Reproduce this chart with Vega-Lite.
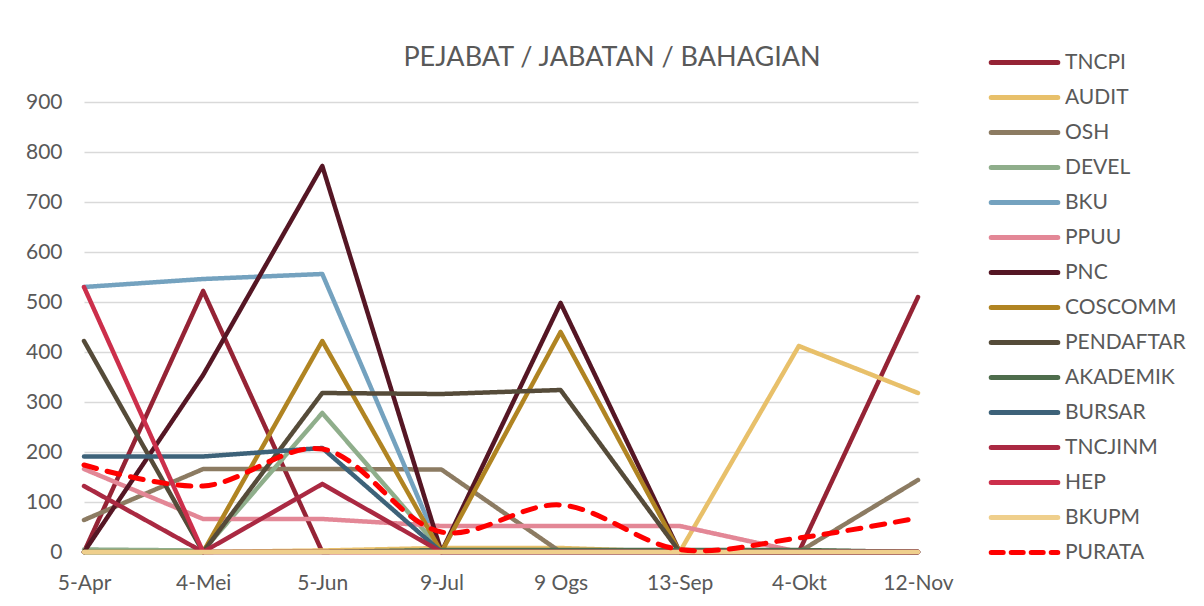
{
  "$schema": "https://vega.github.io/schema/vega-lite/v6.json",
  "autosize": "none",
  "width": 834,
  "height": 450,
  "padding": {"left": 84, "top": 102, "right": 286, "bottom": 54},
  "background": "white",
  "title": {"text": "PEJABAT / JABATAN / BAHAGIAN", "fontSize": 27, "font": "Lato", "fontWeight": "normal", "color": "#595959", "anchor": "middle", "dx": 111, "offset": -21},
  "config": {"view": {"stroke": null}, "font": "Lato"},
  "data": {"values": [
    {"d":"5-Apr","s":"TNCPI","v":0},{"d":"4-Mei","s":"TNCPI","v":522},{"d":"5-Jun","s":"TNCPI","v":0},{"d":"9-Jul","s":"TNCPI","v":0},{"d":"9 Ogs","s":"TNCPI","v":0},{"d":"13-Sep","s":"TNCPI","v":0},{"d":"4-Okt","s":"TNCPI","v":0},{"d":"12-Nov","s":"TNCPI","v":510},
    {"d":"5-Apr","s":"AUDIT","v":0},{"d":"4-Mei","s":"AUDIT","v":0},{"d":"5-Jun","s":"AUDIT","v":3},{"d":"9-Jul","s":"AUDIT","v":8},{"d":"9 Ogs","s":"AUDIT","v":8},{"d":"13-Sep","s":"AUDIT","v":0},{"d":"4-Okt","s":"AUDIT","v":412},{"d":"12-Nov","s":"AUDIT","v":318},
    {"d":"5-Apr","s":"OSH","v":64},{"d":"4-Mei","s":"OSH","v":166},{"d":"5-Jun","s":"OSH","v":166},{"d":"9-Jul","s":"OSH","v":165},{"d":"9 Ogs","s":"OSH","v":0},{"d":"13-Sep","s":"OSH","v":0},{"d":"4-Okt","s":"OSH","v":0},{"d":"12-Nov","s":"OSH","v":144},
    {"d":"5-Apr","s":"DEVEL","v":5},{"d":"4-Mei","s":"DEVEL","v":3},{"d":"5-Jun","s":"DEVEL","v":278},{"d":"9-Jul","s":"DEVEL","v":3},{"d":"9 Ogs","s":"DEVEL","v":3},{"d":"13-Sep","s":"DEVEL","v":3},{"d":"4-Okt","s":"DEVEL","v":3},{"d":"12-Nov","s":"DEVEL","v":0},
    {"d":"5-Apr","s":"BKU","v":530},{"d":"4-Mei","s":"BKU","v":546},{"d":"5-Jun","s":"BKU","v":556},{"d":"9-Jul","s":"BKU","v":0},{"d":"9 Ogs","s":"BKU","v":0},{"d":"13-Sep","s":"BKU","v":0},{"d":"4-Okt","s":"BKU","v":0},{"d":"12-Nov","s":"BKU","v":0},
    {"d":"5-Apr","s":"PPUU","v":166},{"d":"4-Mei","s":"PPUU","v":66},{"d":"5-Jun","s":"PPUU","v":66},{"d":"9-Jul","s":"PPUU","v":52},{"d":"9 Ogs","s":"PPUU","v":52},{"d":"13-Sep","s":"PPUU","v":52},{"d":"4-Okt","s":"PPUU","v":0},{"d":"12-Nov","s":"PPUU","v":0},
    {"d":"5-Apr","s":"PNC","v":0},{"d":"4-Mei","s":"PNC","v":354},{"d":"5-Jun","s":"PNC","v":772},{"d":"9-Jul","s":"PNC","v":0},{"d":"9 Ogs","s":"PNC","v":498},{"d":"13-Sep","s":"PNC","v":0},{"d":"4-Okt","s":"PNC","v":0},{"d":"12-Nov","s":"PNC","v":0},
    {"d":"5-Apr","s":"COSCOMM","v":0},{"d":"4-Mei","s":"COSCOMM","v":0},{"d":"5-Jun","s":"COSCOMM","v":422},{"d":"9-Jul","s":"COSCOMM","v":0},{"d":"9 Ogs","s":"COSCOMM","v":440},{"d":"13-Sep","s":"COSCOMM","v":0},{"d":"4-Okt","s":"COSCOMM","v":0},{"d":"12-Nov","s":"COSCOMM","v":0},
    {"d":"5-Apr","s":"PENDAFTAR","v":422},{"d":"4-Mei","s":"PENDAFTAR","v":0},{"d":"5-Jun","s":"PENDAFTAR","v":318},{"d":"9-Jul","s":"PENDAFTAR","v":316},{"d":"9 Ogs","s":"PENDAFTAR","v":324},{"d":"13-Sep","s":"PENDAFTAR","v":0},{"d":"4-Okt","s":"PENDAFTAR","v":0},{"d":"12-Nov","s":"PENDAFTAR","v":0},
    {"d":"5-Apr","s":"AKADEMIK","v":0},{"d":"4-Mei","s":"AKADEMIK","v":0},{"d":"5-Jun","s":"AKADEMIK","v":0},{"d":"9-Jul","s":"AKADEMIK","v":4},{"d":"9 Ogs","s":"AKADEMIK","v":4},{"d":"13-Sep","s":"AKADEMIK","v":4},{"d":"4-Okt","s":"AKADEMIK","v":4},{"d":"12-Nov","s":"AKADEMIK","v":0},
    {"d":"5-Apr","s":"BURSAR","v":191},{"d":"4-Mei","s":"BURSAR","v":191},{"d":"5-Jun","s":"BURSAR","v":208},{"d":"9-Jul","s":"BURSAR","v":0},{"d":"9 Ogs","s":"BURSAR","v":0},{"d":"13-Sep","s":"BURSAR","v":0},{"d":"4-Okt","s":"BURSAR","v":0},{"d":"12-Nov","s":"BURSAR","v":0},
    {"d":"5-Apr","s":"TNCJINM","v":132},{"d":"4-Mei","s":"TNCJINM","v":0},{"d":"5-Jun","s":"TNCJINM","v":136},{"d":"9-Jul","s":"TNCJINM","v":0},{"d":"9 Ogs","s":"TNCJINM","v":0},{"d":"13-Sep","s":"TNCJINM","v":0},{"d":"4-Okt","s":"TNCJINM","v":0},{"d":"12-Nov","s":"TNCJINM","v":0},
    {"d":"5-Apr","s":"HEP","v":530},{"d":"4-Mei","s":"HEP","v":0},{"d":"5-Jun","s":"HEP","v":0},{"d":"9-Jul","s":"HEP","v":0},{"d":"9 Ogs","s":"HEP","v":0},{"d":"13-Sep","s":"HEP","v":0},{"d":"4-Okt","s":"HEP","v":0},{"d":"12-Nov","s":"HEP","v":0},
    {"d":"5-Apr","s":"BKUPM","v":0},{"d":"4-Mei","s":"BKUPM","v":0},{"d":"5-Jun","s":"BKUPM","v":0},{"d":"9-Jul","s":"BKUPM","v":0},{"d":"9 Ogs","s":"BKUPM","v":0},{"d":"13-Sep","s":"BKUPM","v":0},{"d":"4-Okt","s":"BKUPM","v":0},{"d":"12-Nov","s":"BKUPM","v":0},
    {"d":"5-Apr","s":"PURATA","v":174},{"d":"4-Mei","s":"PURATA","v":132},{"d":"5-Jun","s":"PURATA","v":206},{"d":"9-Jul","s":"PURATA","v":40},{"d":"9 Ogs","s":"PURATA","v":94},{"d":"13-Sep","s":"PURATA","v":5},{"d":"4-Okt","s":"PURATA","v":28},{"d":"12-Nov","s":"PURATA","v":68}
  ]},
  "layer": [
    {
      "transform": [{"filter": "datum.s !== 'PURATA'"}],
      "mark": {"type": "line", "strokeWidth": 4.5, "strokeJoin": "round", "strokeCap": "round"},
      "encoding": {
        "x": {"field": "d", "type": "ordinal", "sort": ["5-Apr","4-Mei","5-Jun","9-Jul","9 Ogs","13-Sep","4-Okt","12-Nov"], "scale": {"type": "point", "padding": 0},
              "axis": {"title": null, "labelAngle": 0, "labelFontSize": 21, "labelColor": "#595959", "ticks": false, "domain": false, "labelPadding": 20, "grid": false, "labelFont": "Lato"}},
        "y": {"field": "v", "type": "quantitative", "scale": {"domain": [0, 900], "nice": false},
              "axis": {"title": null, "values": [0,100,200,300,400,500,600,700,800,900], "labelFontSize": 21, "labelColor": "#595959", "ticks": false, "domain": false, "labelPadding": 22, "gridColor": "#D9D9D9", "gridWidth": 1.3, "labelFont": "Lato"}},
        "color": {"field": "s", "type": "nominal", "sort": null,
          "scale": {"domain": ["TNCPI","AUDIT","OSH","DEVEL","BKU","PPUU","PNC","COSCOMM","PENDAFTAR","AKADEMIK","BURSAR","TNCJINM","HEP","BKUPM","PURATA"],
                    "range": ["#952335","#E8C06A","#8C7B62","#8FAE8B","#74A2BF","#E38796","#551624","#B08422","#554B39","#4E6D4C","#3D6279","#AA2942","#CC2F4B","#EFCF8C","#FF0000"]},
          "legend": {"title": null, "orient": "none", "legendX": 929, "legendY": -51, "symbolType": "M-3.7,0H3.7", "symbolSize": 324, "symbolStrokeWidth": 5, "labelFontSize": 21, "labelColor": "#595959", "labelOffset": 29, "rowPadding": 13, "labelFont": "Lato", "padding": 0,
                     "values": ["TNCPI","AUDIT","OSH","DEVEL","BKU","PPUU","PNC","COSCOMM","PENDAFTAR","AKADEMIK","BURSAR","TNCJINM","HEP","BKUPM","PURATA"],
                     "encode": {"symbols": {"update": {"strokeCap": {"value": "round"}}}}}},
        "strokeDash": {"field": "s", "type": "nominal", "sort": null,
          "scale": {"domain": ["TNCPI","AUDIT","OSH","DEVEL","BKU","PPUU","PNC","COSCOMM","PENDAFTAR","AKADEMIK","BURSAR","TNCJINM","HEP","BKUPM","PURATA"],
                    "range": [[1,0],[1,0],[1,0],[1,0],[1,0],[1,0],[1,0],[1,0],[1,0],[1,0],[1,0],[1,0],[1,0],[1,0],[12,8]]}},
        "order": {"field": "s"}
      }
    },
    {
      "transform": [{"filter": "datum.s === 'PURATA'"}],
      "mark": {"type": "line", "strokeWidth": 5, "strokeCap": "round", "strokeDash": [13, 11], "interpolate": "catmull-rom", "color": "#FF0000"},
      "encoding": {
        "x": {"field": "d", "type": "ordinal", "sort": ["5-Apr","4-Mei","5-Jun","9-Jul","9 Ogs","13-Sep","4-Okt","12-Nov"]},
        "y": {"field": "v", "type": "quantitative"}
      }
    }
  ]
}
